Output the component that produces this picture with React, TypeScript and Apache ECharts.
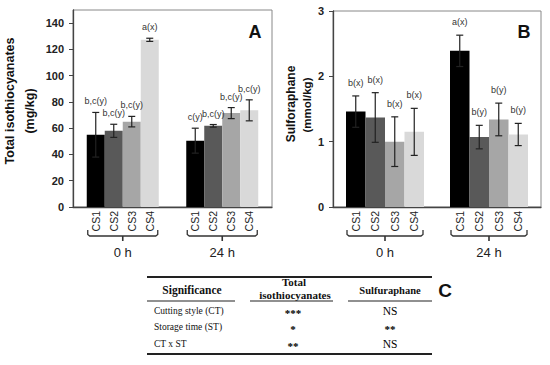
import { useEffect, useRef } from "react";
import * as echarts from "echarts";

const groups = ["0 h", "24 h"];
const cuttingStyles = ["CS1", "CS2", "CS3", "CS4"];
const barColors = ["#000000", "#595959", "#a6a6a6", "#d9d9d9"];

// Panel A: total isothiocyanates (mg/kg); each row = one cutting style, [0 h, 24 h]
const itcMeans = [
  [55, 50.5],
  [58, 61.8],
  [65, 71.5],
  [127.3, 73.6],
];
const itcErrors = [
  [17, 9.5],
  [5, 1],
  [4, 4.2],
  [1.2, 8],
];
const itcLetters = [
  ["b,c(y)", "c(y)"],
  ["b,c(y)", "b,c(y)"],
  ["b,c(y)", "b,c(y)"],
  ["a(x)", "b,c(y)"],
];
const itcTicks = [0, 20, 40, 60, 80, 100, 120, 140];

// Panel B: sulforaphane (mmol/kg)
const sfnMeans = [
  [1.46, 2.39],
  [1.37, 1.07],
  [1.0, 1.34],
  [1.15, 1.11],
];
const sfnErrors = [
  [0.24, 0.24],
  [0.38, 0.18],
  [0.38, 0.25],
  [0.36, 0.17],
];
const sfnLetters = [
  ["b(x)", "a(x)"],
  ["b(x)", "b(y)"],
  ["b(x)", "b(y)"],
  ["b(x)", "b(y)"],
];
const sfnTicks = [0, 1, 2, 3];

// Panel C: significance table
const tableFactors = ["Cutting style (CT)", "Storage time (ST)", "CT x ST"];
const itcSignificance = ["***", "*", "**"];
const sfnSignificance = ["NS", "**", "NS"];

const SANS = '"Liberation Sans", Arial, sans-serif';
const SERIF = '"Liberation Serif", "Times New Roman", serif';

function panelSeries(
  g: number,
  means: number[][],
  errors: number[][],
  letters: string[][],
  bw: number,
  labelOffset: number
) {
  const series: any[] = [];
  means.forEach((vals, i) => {
    series.push({
      type: "bar",
      name: cuttingStyles[i],
      xAxisIndex: g,
      yAxisIndex: g,
      data: vals,
      barWidth: bw,
      barGap: "0%",
      itemStyle: { color: barColors[i] },
      silent: true,
    });
  });
  const errData: number[][] = [];
  means.forEach((vals, i) => {
    vals.forEach((v, c) => errData.push([c, i, v, errors[i][c]]));
  });
  series.push({
    type: "custom",
    xAxisIndex: g,
    yAxisIndex: g,
    data: errData,
    encode: { x: 0, y: 2 },
    silent: true,
    z: 5,
    renderItem: (_p: any, api: any) => {
      const cat = api.value(0);
      const cs = api.value(1);
      const mean = api.value(2);
      const err = api.value(3);
      const base = api.coord([cat, mean]);
      const xc = base[0] + (cs - 1.5) * bw;
      const yTop = api.coord([cat, mean + err])[1];
      const yBot = api.coord([cat, mean - err])[1];
      const st = { stroke: "#222", lineWidth: 1.2 };
      return {
        type: "group",
        children: [
          { type: "line", shape: { x1: xc, y1: yTop, x2: xc, y2: yBot }, style: st },
          { type: "line", shape: { x1: xc - 3.5, y1: yTop, x2: xc + 3.5, y2: yTop }, style: st },
          { type: "line", shape: { x1: xc - 3.5, y1: yBot, x2: xc + 3.5, y2: yBot }, style: st },
          {
            type: "text",
            x: xc,
            y: yTop - labelOffset,
            style: {
              text: letters[cs][cat],
              fill: "#333",
              fontSize: 9,
              fontFamily: SANS,
              align: "center",
              verticalAlign: "middle",
            },
          },
        ],
      };
    },
  });
  series.push({
    type: "custom",
    xAxisIndex: g,
    yAxisIndex: g,
    data: groups.map((_, c) => [c, 0]),
    encode: { x: 0, y: 1 },
    silent: true,
    clip: false,
    renderItem: (_p: any, api: any) => {
      const cat = api.value(0);
      const pt = api.coord([cat, 0]);
      const xc = pt[0];
      const y0 = pt[1];
      const children: any[] = cuttingStyles.map((name, i) => ({
        type: "text",
        x: xc + (i - 1.5) * bw,
        y: y0 + 4,
        rotation: Math.PI / 2,
        style: {
          text: name,
          fill: "#222",
          fontSize: 10.5,
          fontFamily: SANS,
          align: "right",
          verticalAlign: "middle",
        },
      }));
      const x0 = xc - 2 * bw + 1;
      const x1 = xc + 2 * bw - 1;
      const yb = y0 + 29;
      children.push({
        type: "polyline",
        shape: {
          points: [
            [x0, yb - 6],
            [x0, yb - 1.5],
            [x0 + 2, yb],
            [x1 - 2, yb],
            [x1, yb - 1.5],
            [x1, yb - 6],
          ],
        },
        style: { stroke: "#333", lineWidth: 1.3, fill: null },
      });
      children.push({
        type: "line",
        shape: { x1: xc, y1: yb, x2: xc, y2: yb + 5 },
        style: { stroke: "#333", lineWidth: 1.6 },
      });
      children.push({
        type: "text",
        x: xc,
        y: y0 + 45,
        style: {
          text: groups[cat],
          fill: "#222",
          fontSize: 13,
          fontFamily: SANS,
          align: "center",
          verticalAlign: "middle",
        },
      });
      return { type: "group", children };
    },
  });
  return series;
}

function yAxis(g: number, max: number, interval: number, ticks: number[]) {
  return {
    type: "value",
    gridIndex: g,
    min: 0,
    max,
    interval,
    axisLine: { show: true, lineStyle: { color: "#444", width: 1.3 } },
    axisTick: { show: true, length: 4, customValues: ticks, lineStyle: { color: "#444" } },
    axisLabel: {
      customValues: ticks,
      fontWeight: "bold",
      fontSize: 11,
      fontFamily: SANS,
      color: "#222",
      margin: 9,
    },
    splitLine: { show: false },
  };
}

function xAxis(g: number) {
  return {
    type: "category",
    gridIndex: g,
    data: groups,
    axisLine: { show: true, lineStyle: { color: "#444", width: 1.3 } },
    axisTick: { show: false },
    axisLabel: { show: false },
  };
}

function txt(x: number, y: number, text: string, style: any, extra: any = {}) {
  return {
    type: "text",
    x,
    y,
    silent: true,
    ...extra,
    style: { text, align: "center", verticalAlign: "middle", fill: "#111", ...style },
  };
}

function hline(x1: number, x2: number, y: number, w: number) {
  return {
    type: "line",
    silent: true,
    shape: { x1, y1: y, x2, y2: y },
    style: { stroke: "#222", lineWidth: w },
  };
}

export default function App() {
  const ref = useRef<HTMLDivElement>(null);
  useEffect(() => {
    if (!ref.current) return;
    const chart = echarts.init(ref.current, undefined, { renderer: "svg" });
    const rowY = [311, 327, 344];
    const graphic: any[] = [
      txt(10, 101, "Total isothiocyanates", { font: `bold 12.5px ${SANS}` }, { rotation: Math.PI / 2 }),
      txt(30, 111, "(mg/kg)", { font: `bold 12.5px ${SANS}` }, { rotation: Math.PI / 2 }),
      txt(291, 104, "Sulforaphane", { font: `bold 12px ${SANS}` }, { rotation: Math.PI / 2 }),
      txt(307, 105, "(mmol/kg)", { font: `bold 11.5px ${SANS}` }, { rotation: Math.PI / 2 }),
      txt(255, 32, "A", { font: `bold 18px ${SANS}` }),
      txt(524, 32, "B", { font: `bold 18px ${SANS}` }),
      txt(445, 290, "C", { font: `bold 19px ${SANS}` }),
      hline(147, 432, 277, 1.8),
      txt(192, 290, "Significance", { font: `bold 11.5px ${SERIF}` }),
      txt(294, 282, "Total", { font: `bold 11px ${SERIF}` }),
      txt(295, 295, "isothiocyanates", { font: `bold 11px ${SERIF}` }),
      txt(390, 290, "Sulfuraphane", { font: `bold 10.5px ${SERIF}` }),
      hline(147, 235, 301, 1.2),
      hline(250, 333, 301, 1.2),
      hline(348, 432, 301, 1.2),
      hline(147, 432, 354, 1.8),
    ];
    tableFactors.forEach((f, r) => {
      graphic.push(txt(154, rowY[r], f, { font: `9.5px ${SERIF}`, align: "left" }));
      graphic.push(txt(293, rowY[r] + 2, itcSignificance[r], { font: `bold 11px ${SERIF}`, fill: "#000" }));
      graphic.push(
        txt(390, rowY[r] + (sfnSignificance[r] === "NS" ? 0 : 2), sfnSignificance[r], {
          font: sfnSignificance[r] === "NS" ? `11.5px ${SERIF}` : `bold 11px ${SERIF}`,
          fill: "#000",
        })
      );
    });

    chart.setOption({
      animation: false,
      backgroundColor: "#ffffff",
      grid: [
        { left: 73, top: 10, width: 199, height: 197, show: true, borderColor: "#888", borderWidth: 1 },
        { left: 333, top: 11, width: 208, height: 196, show: true, borderColor: "#888", borderWidth: 1 },
      ],
      xAxis: [xAxis(0), xAxis(1)],
      yAxis: [yAxis(0, 150, 20, itcTicks), yAxis(1, 3, 1, sfnTicks)],
      series: [
        ...panelSeries(0, itcMeans, itcErrors, itcLetters, 18, 11),
        ...panelSeries(1, sfnMeans, sfnErrors, sfnLetters, 19.5, 13),
      ],
      graphic,
    });
    return () => chart.dispose();
  }, []);
  return (
    <div
      ref={ref}
      style={{ position: "absolute", left: 0, top: 0, width: 550, height: 365, background: "#fff" }}
    />
  );
}
